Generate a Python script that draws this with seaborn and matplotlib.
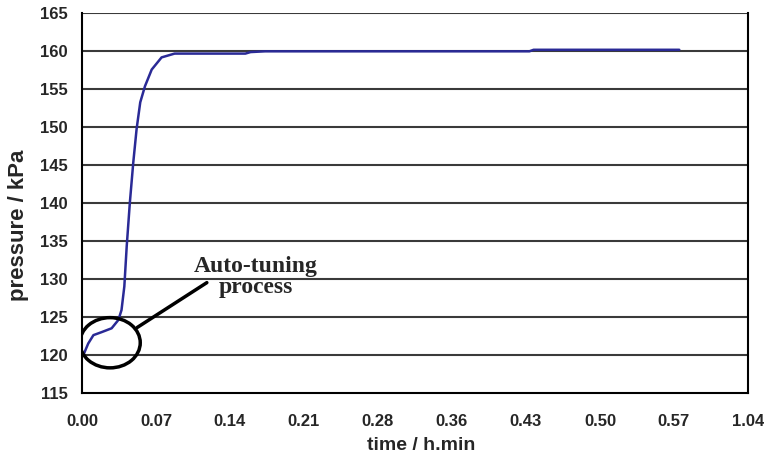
import numpy as np
import pandas as pd
import matplotlib.pyplot as plt
import seaborn as sns
from matplotlib.patches import Ellipse

# ─── Data (time in minutes) ───────────────────────────────
time_min = [0.0, 0.2, 0.6, 1.1, 1.9, 2.85, 3.5, 3.8, 4.07, 4.3, 4.6, 4.93,
            5.25, 5.6, 6.05, 6.7, 7.65, 8.9, 12.0, 15.7, 16.2, 17.6, 25.0,
            35.0, 43.0, 43.4, 50.0, 57.4]
pressure = [120.0, 120.2, 121.5, 122.6, 123.0, 123.5, 124.6, 125.9, 129.0,
            134.3, 140.0, 145.3, 149.7, 153.2, 155.3, 157.5, 159.1, 159.6,
            159.6, 159.6, 159.8, 159.9, 159.9, 159.9, 159.9, 160.1, 160.1,
            160.1]
xtick_labels = ["0.00", "0.07", "0.14", "0.21", "0.28", "0.36", "0.43",
                "0.50", "0.57", "1.04"]
ytick_values = [115, 120, 125, 130, 135, 140, 145, 150, 155, 160, 165]

df = pd.DataFrame({"time": time_min, "pressure": pressure})

# ─── Style ────────────────────────────────────────────────
sns.set_style("white")
plt.rcParams["font.family"] = ["Liberation Sans", "DejaVu Sans"]
LINE = "#2A2A96"
GRID = "#3A3A3A"

fig = plt.figure(figsize=(7.64, 4.58), dpi=100)
ax = fig.add_axes([0.1073, 0.142, 0.8717, 0.8307])

sns.lineplot(data=df, x="time", y="pressure", ax=ax, color=LINE, lw=1.8)

ax.set_xlim(0, 64)
ax.set_ylim(115, 165)
ax.set_xticks(np.linspace(0, 64, len(xtick_labels)))
ax.set_xticklabels(xtick_labels)
ax.set_yticks(ytick_values)
for y in ytick_values[1:]:
    ax.axhline(y, color=GRID, lw=1.5, zorder=0)

ax.tick_params(axis="both", direction="out", length=4, width=1.5,
               color="black", labelsize=12)
ax.tick_params(axis="x", pad=11)
ax.tick_params(axis="y", pad=6)
for lbl in ax.get_xticklabels() + ax.get_yticklabels():
    lbl.set_fontweight("bold")

for side in ["left", "bottom", "right"]:
    ax.spines[side].set_color("black")
    ax.spines[side].set_linewidth(1.5)
ax.spines["top"].set_visible(False)

ax.set_xlabel("time / h.min", fontsize=14, fontweight="bold", va="center")
ax.set_ylabel("pressure / kPa", fontsize=16, fontweight="bold")
ax.xaxis.set_label_coords(0.509, -0.137)
ax.yaxis.set_label_coords(-0.079, 0.44)

# ─── Annotation ───────────────────────────────────────────
ax.add_patch(Ellipse((2.7, 121.6), 5.8, 6.6, fill=False, ec="black",
                     lw=2.5, zorder=5))
ax.plot([5.3, 12.0], [123.6, 129.5], color="black", lw=2.5, zorder=5)
ax.text(16.7, 130.2, "Auto-tuning\nprocess", ha="center", va="center",
        fontsize=17, fontweight="bold", family="Liberation Serif",
        linespacing=1.0)

plt.savefig("out.png", dpi=100)
plt.close()
